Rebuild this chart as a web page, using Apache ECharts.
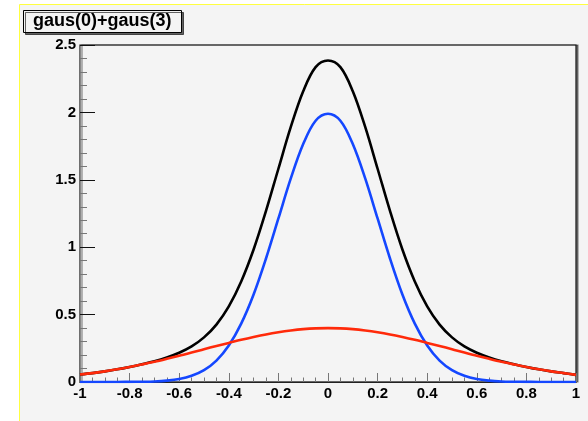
<!DOCTYPE html>
<html>
<head>
<meta charset="utf-8">
<script src="https://cdn.jsdelivr.net/npm/echarts@6/dist/echarts.min.js"></script>
<style>
html,body{margin:0;padding:0;background:#fff;}
#chart{width:588px;height:421px;}
</style>
</head>
<body>
<div id="chart"></div>
<script>
// x positions sampled along the curves
var xs = [-1,-0.95,-0.9,-0.85,-0.8,-0.75,-0.7,-0.65,-0.6,-0.55,-0.5,-0.45,-0.4,-0.35,-0.3,-0.25,-0.2,-0.15,-0.1,-0.05,0,
          0.05,0.1,0.15,0.2,0.25,0.3,0.35,0.4,0.45,0.5,0.55,0.6,0.65,0.7,0.75,0.8,0.85,0.9,0.95,1];
// gaus(0) - blue curve
var blueVals = [0,0,0,0,0.001,0.002,0.004,0.010,0.022,0.046,0.088,0.159,0.271,0.433,0.649,0.916,1.213,1.510,1.765,1.938,1.99,
                1.938,1.765,1.510,1.213,0.916,0.649,0.433,0.271,0.159,0.088,0.046,0.022,0.010,0.004,0.002,0.001,0,0,0,0];
// gaus(3) - red curve
var redVals = [0.056,0.066,0.079,0.094,0.111,0.130,0.150,0.172,0.195,0.218,0.243,0.267,0.290,0.313,0.334,0.353,0.369,0.382,0.392,0.398,0.40,
               0.398,0.392,0.382,0.369,0.353,0.334,0.313,0.290,0.267,0.243,0.218,0.195,0.172,0.150,0.130,0.111,0.094,0.079,0.066,0.053];
// gaus(0)+gaus(3) - black curve
var blackVals = [0.056,0.066,0.079,0.094,0.112,0.132,0.154,0.182,0.217,0.264,0.331,0.426,0.561,0.746,0.983,1.269,1.582,1.892,2.157,2.336,2.385,
                 2.336,2.157,1.892,1.582,1.269,0.983,0.746,0.561,0.426,0.331,0.264,0.217,0.182,0.154,0.132,0.112,0.094,0.079,0.066,0.053];
var titleText = 'gaus(0)+gaus(3)';

function pairs(v){ return xs.map(function(x,i){ return [x, v[i]]; }); }

var chart = echarts.init(document.getElementById('chart'), null, {renderer:'canvas'});
var labelFont = {color:'#000', fontWeight:'bold', fontSize:15, fontFamily:'Liberation Sans, Arial, sans-serif'};
chart.setOption({
  animation:false,
  backgroundColor:'#ffffff',
  graphic:[{
    type:'rect', z:-10, silent:true,
    shape:{x:19.5, y:4.5, width:600, height:500},
    style:{fill:'#f4f4f4', stroke:'#ffff40', lineWidth:1}
  }],
  title:{
    text:titleText, left:23, top:10,
    padding:[2,10,2,10],
    backgroundColor:'#f4f4f4', borderColor:'#000', borderWidth:1,
    shadowColor:'rgba(0,0,0,0.6)', shadowOffsetX:2, shadowOffsetY:2, shadowBlur:0,
    textStyle:{fontSize:18, fontWeight:'bold', color:'#000', fontFamily:'Liberation Sans, Arial, sans-serif', lineHeight:19}
  },
  grid:{
    left:80, right:12, top:45, bottom:39, containLabel:false,
    show:true, backgroundColor:'#f4f4f4', borderColor:'#111', borderWidth:1.2,
    shadowColor:'rgba(0,0,0,0.45)', shadowOffsetX:2, shadowOffsetY:0, shadowBlur:0
  },
  xAxis:{
    type:'value', min:-1, max:1, interval:0.2,
    axisLine:{show:true, onZero:false, lineStyle:{color:'#222', width:1.2}},
    axisTick:{show:true, inside:true, length:9, lineStyle:{color:'#777', width:1}},
    minorTick:{show:true, splitNumber:4, length:4.5, lineStyle:{color:'#777', width:1}},
    axisLabel:Object.assign({margin:4}, labelFont),
    splitLine:{show:false}
  },
  yAxis:{
    type:'value', min:0, max:2.5, interval:0.5,
    axisLine:{show:true, onZero:false, lineStyle:{color:'#888', width:1.2}},
    axisTick:{show:true, inside:true, length:15, lineStyle:{color:'#111', width:1}},
    minorTick:{show:true, splitNumber:5, length:7, lineStyle:{color:'#777', width:1}},
    axisLabel:Object.assign({margin:4}, labelFont),
    splitLine:{show:false}
  },
  series:[
    {type:'line', data:pairs(blackVals), smooth:0.35, showSymbol:false, lineStyle:{color:'#000', width:2.6}, itemStyle:{color:'#000'}},
    {type:'line', data:pairs(blueVals), smooth:0.35, showSymbol:false, lineStyle:{color:'#1447ff', width:2.6}, itemStyle:{color:'#1447ff'}},
    {type:'line', data:pairs(redVals), smooth:0.35, showSymbol:false, lineStyle:{color:'#ff2a0a', width:2.6}, itemStyle:{color:'#ff2a0a'}}
  ]
});
</script>
</body>
</html>
